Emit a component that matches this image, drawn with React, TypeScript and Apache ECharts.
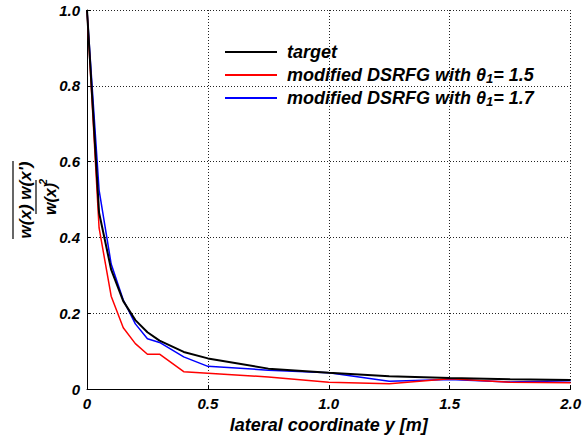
import React, { useEffect, useRef } from "react";
import * as echarts from "echarts";

const xs = [0, 0.05, 0.1, 0.15, 0.2, 0.25, 0.3, 0.4, 0.5, 0.75, 1.0, 1.25, 1.5, 1.75, 2.0];
const target = [1.0, 0.465, 0.315, 0.232, 0.182, 0.15, 0.128, 0.098, 0.081, 0.054, 0.043, 0.034, 0.029, 0.026, 0.024];
const theta15 = [1.0, 0.425, 0.245, 0.162, 0.12, 0.092, 0.092, 0.046, 0.042, 0.032, 0.018, 0.014, 0.027, 0.018, 0.017];
const theta17 = [1.0, 0.525, 0.33, 0.235, 0.172, 0.133, 0.123, 0.085, 0.06, 0.05, 0.043, 0.021, 0.025, 0.019, 0.022];

const seriesNames = ["target", "modified DSRFG with θ1= 1.5", "modified DSRFG with θ1= 1.7"];
const xTicks = { min: 0, max: 2, interval: 0.5 };
const yTicks = { min: 0, max: 1, interval: 0.2 };
const xName = "lateral coordinate y [m]";
const yNumerator = "w(x) w(x')";
const yDenominator = "w(x)";

const FONT = "'Liberation Sans', Arial, sans-serif";

export default function App() {
  const ref = useRef<HTMLDivElement>(null);
  useEffect(() => {
    if (!ref.current) return;
    const chart = echarts.init(ref.current, undefined, { renderer: "svg" });
    const fmt = (v: number) => (v === 0 ? "0" : v.toFixed(1));
    const axisCommon = {
      type: "value" as const,
      axisLine: { show: true, lineStyle: { color: "#000", width: 1 } },
      axisTick: { show: true, inside: true, length: 4, lineStyle: { color: "#000" } },
      splitLine: { show: true, lineStyle: { color: "#222", type: [1, 2], width: 1 } },
      axisLabel: {
        color: "#000",
        fontFamily: FONT,
        fontWeight: "bold",
        fontStyle: "italic",
        fontSize: 15,
        formatter: fmt,
      },
    };
    const dataOf = (arr: number[]) => xs.map((x, i) => [x, arr[i]]);
    const colors = ["#000000", "#ff0000", "#0000ff"];
    const widths = [2, 1.5, 1.5];
    const txt = {
      fontFamily: FONT,
      fontWeight: "bold" as const,
      fontStyle: "italic" as const,
      fill: "#000",
      fontSize: 17,
    };
    chart.setOption({
      animation: false,
      backgroundColor: "#fff",
      grid: { left: 87, right: 13, top: 10, bottom: 47, containLabel: false },
      xAxis: {
        ...axisCommon,
        ...xTicks,
        axisLabel: { ...axisCommon.axisLabel, margin: 7 },
        name: xName,
        nameLocation: "middle",
        nameGap: 20,
        nameTextStyle: {
          color: "#000",
          fontFamily: FONT,
          fontWeight: "bold",
          fontStyle: "italic",
          fontSize: 18,
        },
      },
      yAxis: {
        ...axisCommon,
        ...yTicks,
        axisLabel: { ...axisCommon.axisLabel, margin: 7 },
      },
      legend: {
        orient: "vertical",
        left: 220,
        top: 37,
        itemWidth: 52,
        itemHeight: 2,
        itemGap: 3,
        icon: "rect",
        data: seriesNames,
        formatter: (name: string) => name.replace("θ1", "θ{sub|1}"),
        textStyle: {
          color: "#000",
          fontFamily: FONT,
          fontWeight: "bold",
          fontStyle: "italic",
          fontSize: 18,
          lineHeight: 20,
          padding: [0, 0, 0, 5],
          rich: {
            sub: {
              color: "#000",
              fontFamily: FONT,
              fontWeight: "bold",
              fontStyle: "italic",
              fontSize: 13,
              lineHeight: 8,
              verticalAlign: "bottom",
            },
          },
        },
      },
      graphic: [
        {
          type: "group",
          x: 25,
          y: 200,
          rotation: Math.PI / 2,
          children: [
            { type: "line", shape: { x1: -39, y1: -12, x2: 39, y2: -12 }, style: { stroke: "#000", lineWidth: 1.2 } },
            { type: "text", x: 0, y: 0, style: { ...txt, text: yNumerator, align: "center", verticalAlign: "middle" } },
            { type: "line", shape: { x1: -14, y1: 11, x2: 20, y2: 11 }, style: { stroke: "#000", lineWidth: 1.2 } },
            { type: "text", x: -15, y: 25, style: { ...txt, fontSize: 16, text: yDenominator, align: "left", verticalAlign: "middle" } },
            { type: "text", x: 15, y: 18, style: { ...txt, fontSize: 11, text: "2", align: "left", verticalAlign: "middle" } },
          ],
        },
      ],
      series: [target, theta15, theta17].map((arr, i) => ({
        name: seriesNames[i],
        type: "line",
        data: dataOf(arr),
        showSymbol: false,
        symbol: "none",
        color: colors[i],
        lineStyle: { color: colors[i], width: widths[i] },
        itemStyle: { color: colors[i] },
        z: 3 - i,
      })),
    });
    return () => chart.dispose();
  }, []);
  return <div ref={ref} style={{ position: "fixed", left: 0, top: 0, width: 584, height: 439 }} />;
}
